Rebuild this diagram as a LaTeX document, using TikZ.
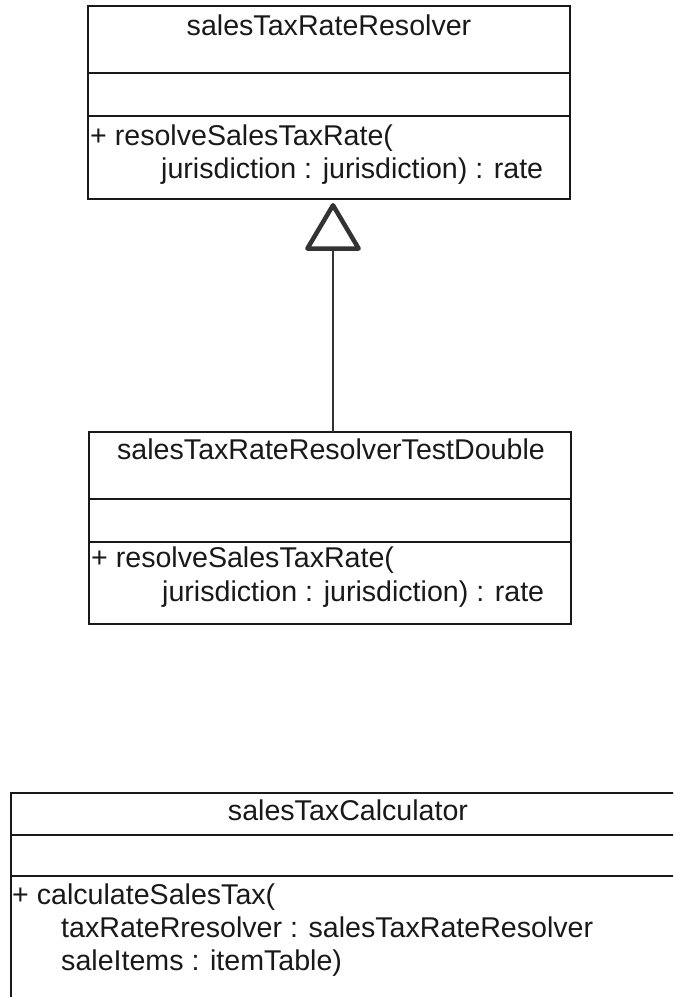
\documentclass[tikz,border=0pt]{standalone}
\usepackage{fontspec}
\setmainfont{Liberation Sans}
\usetikzlibrary{arrows.meta}
\begin{document}
\begin{tikzpicture}[x=1pt,y=-1pt,
  classbox/.style={draw=black!90, line width=2pt, inner sep=0pt, outer sep=0pt, anchor=north west},
  divider/.style={draw=black!90, line width=2pt},
  classname/.style={font=\fontsize{28.6}{32}\selectfont, inner sep=0pt, anchor=base, text=black!90},
  member/.style={font=\fontsize{28.6}{32}\selectfont, inner sep=0pt, anchor=base west, text=black!90},
  generalization/.style={draw=black!80, line width=2pt, shorten >=4pt,
    -{Triangle[open, length=50pt, width=58pt, line width=4.5pt, round]}}
]
\useasboundingbox (0,0) rectangle (673,997);
\clip (0,0) rectangle (673,997);

% Interface: salesTaxRateResolver
\node[classbox, minimum width=482pt, minimum height=193pt] (resolver) at (88,6) {};
\draw[divider] (resolver.west |- 0,73) -- (resolver.east |- 0,73);
\draw[divider] (resolver.west |- 0,116) -- (resolver.east |- 0,116);
\node[classname] (resolverName) at (329,35) {salesTaxRateResolver};
\node[member] (resolverOp1) at (90,145) {+ resolveSalesTaxRate(};
\node[member] (resolverOp2) at (161,178) {jurisdiction : jurisdiction) : rate};

% Test double implementing the resolver
\node[classbox, minimum width=482pt, minimum height=192pt] (testDouble) at (89,432) {};
\draw[divider] (testDouble.west |- 0,499) -- (testDouble.east |- 0,499);
\draw[divider] (testDouble.west |- 0,542) -- (testDouble.east |- 0,542);
\node[classname] (testDoubleName) at (331,459) {salesTaxRateResolverTestDouble};
\node[member] (testDoubleOp1) at (91,567) {+ resolveSalesTaxRate(};
\node[member] (testDoubleOp2) at (162,601) {jurisdiction : jurisdiction) : rate};

% Generalization arrow
\coordinate (genStart) at ([xshift=3pt]testDouble.north);
\draw[generalization] (genStart) -- (genStart |- resolver.south);

% Calculator class
\node[classbox, minimum width=674pt, minimum height=260pt] (calculator) at (11,793) {};
\draw[divider] (calculator.west |- 0,835) -- (calculator.east |- 0,835);
\draw[divider] (calculator.west |- 0,876) -- (calculator.east |- 0,876);
\node[classname] (calculatorName) at (348,820) {salesTaxCalculator};
\node[member] (calculatorOp1) at (12,904) {+ calculateSalesTax(};
\node[member] (calculatorOp2) at (61,937) {taxRateRresolver : salesTaxRateResolver};
\node[member] (calculatorOp3) at (61,970) {saleItems : itemTable)};
\end{tikzpicture}
\end{document}
